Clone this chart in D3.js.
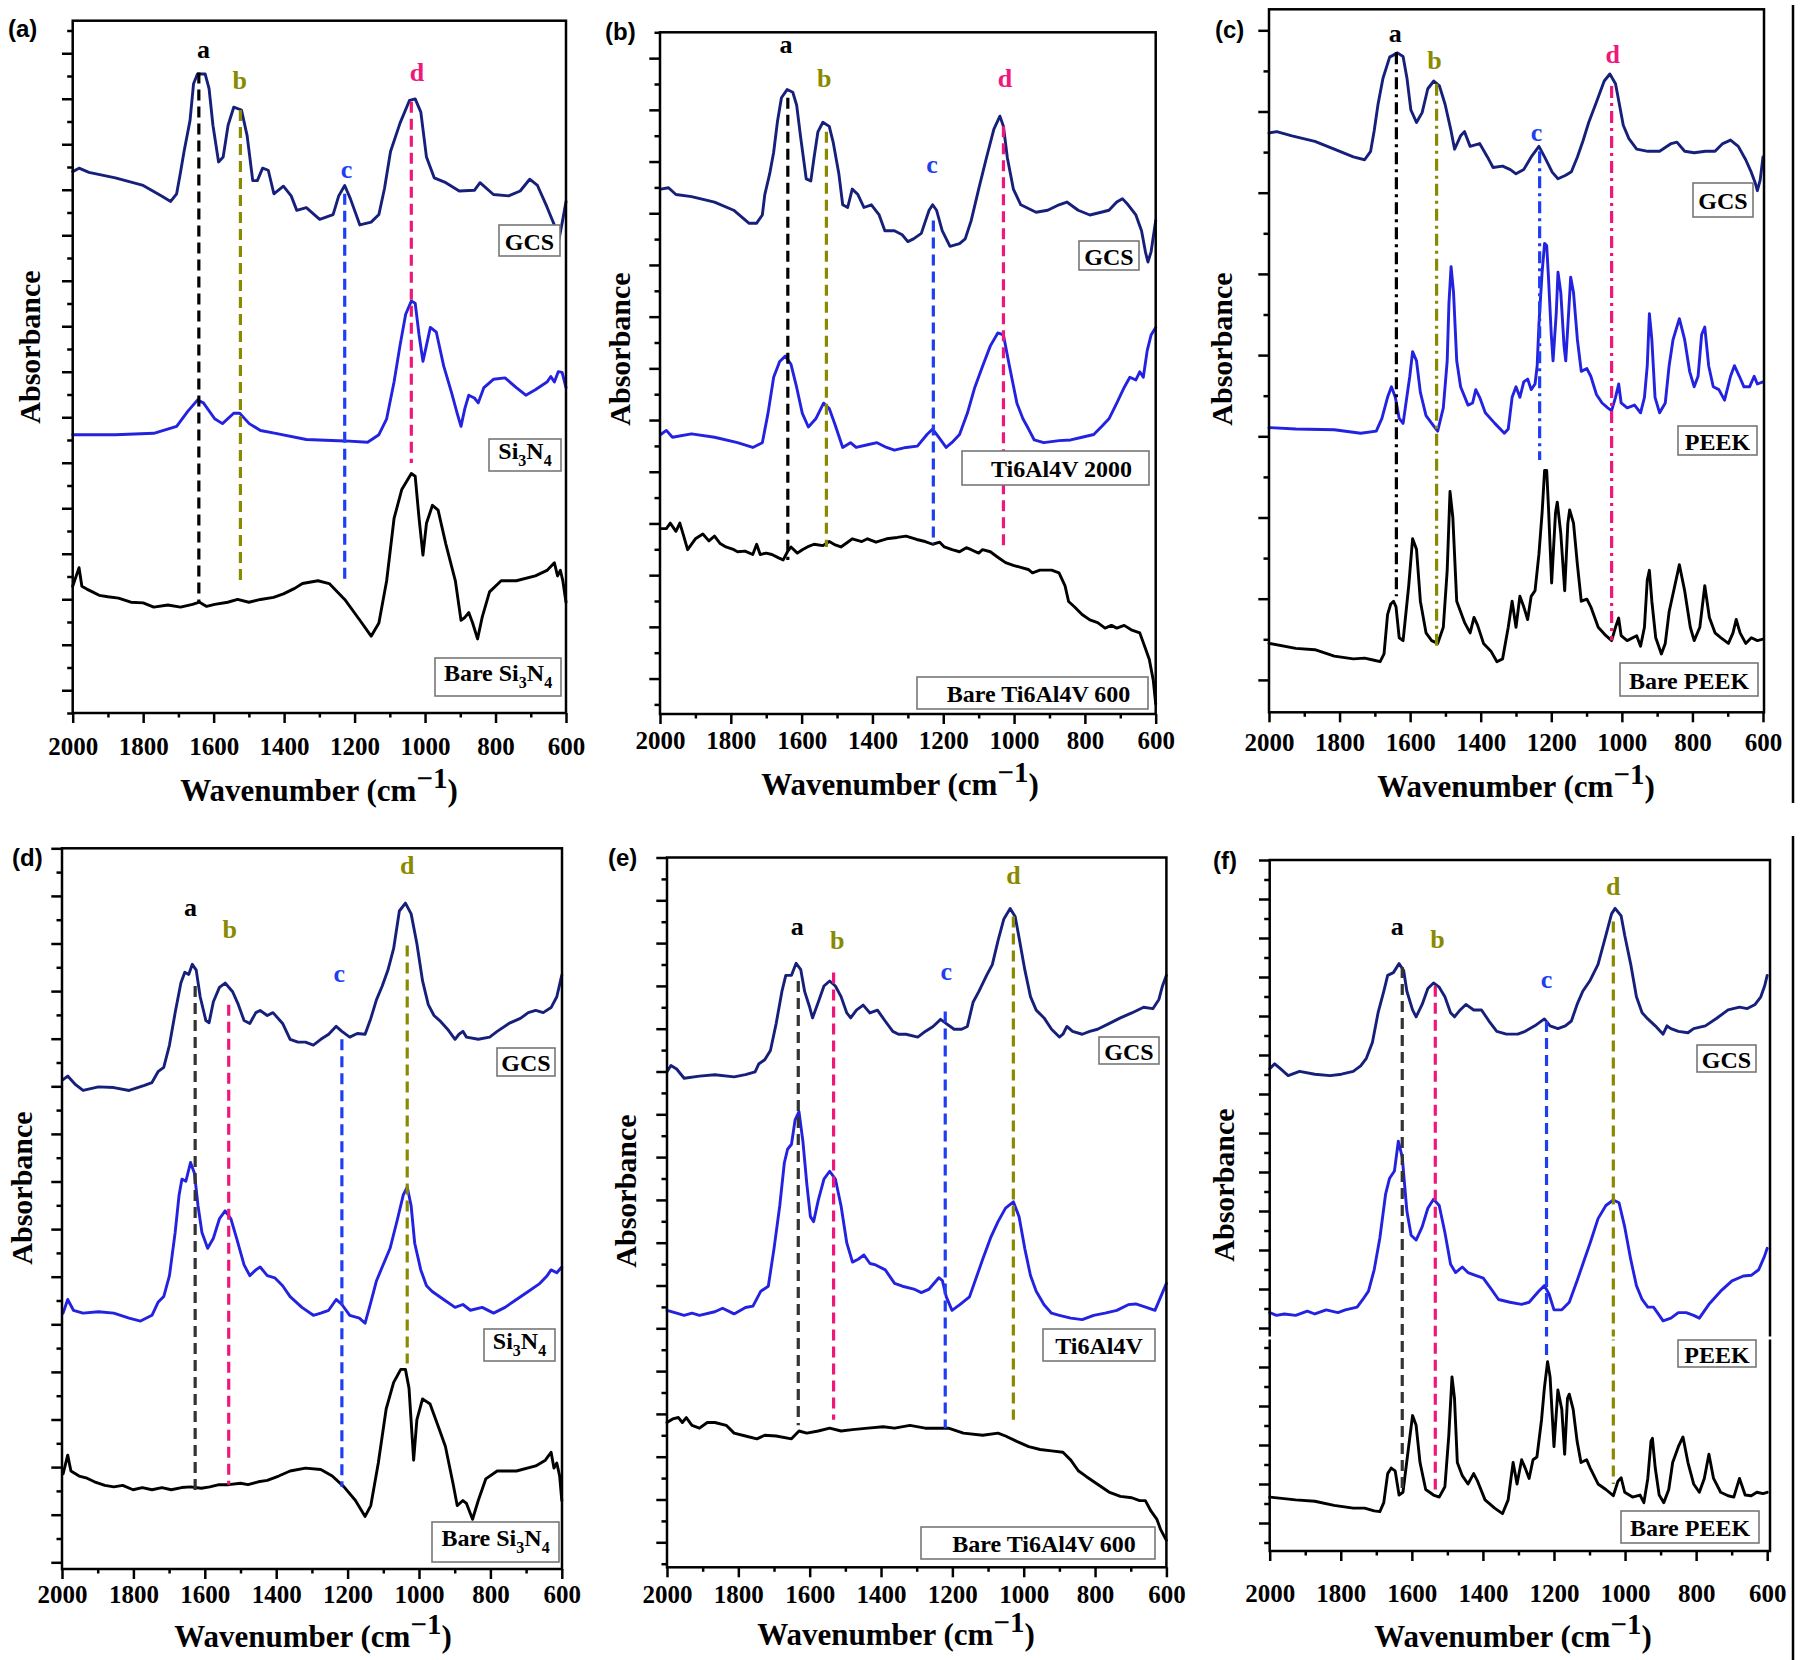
<!DOCTYPE html>
<html><head><meta charset="utf-8">
<script src="https://cdn.jsdelivr.net/npm/d3@7"></script>
<style>body{margin:0;background:#fff}svg{display:block}</style>
</head><body>
<svg id="fig" width="1800" height="1660"></svg>
<script>
// ---------------- DATA (wavenumber cm-1, absorbance in arbitrary units 0-100 of each panel) ----------------
const wavenumberTicks = [2000,1800,1600,1400,1200,1000,800,600];
const wavenumberMinorTicks = [1900,1700,1500,1300,1100,900,700];

// Panel (a)
const aGCS = [[2000,78.2],[1982,78.7],[1954,78.1],[1879,77.3],[1800,76.2],[1749,74.7],[1722,73.9],[1705,75.0],[1694,78.1],[1684,81.1],[1667,85.6],[1657,90.9],[1646,92.3],[1624,92.3],[1613,90.2],[1602,84.9],[1586,79.6],[1573,80.3],[1559,84.9],[1543,87.5],[1521,87.1],[1505,83.4],[1489,76.9],[1476,76.9],[1461,78.7],[1445,78.4],[1429,75.0],[1402,76.1],[1380,74.7],[1364,72.6],[1337,73.0],[1299,71.3],[1261,72.0],[1245,74.7],[1228,76.2],[1212,74.3],[1185,70.5],[1153,70.9],[1131,72.0],[1115,75.8],[1098,81.1],[1071,85.2],[1044,88.5],[1028,88.7],[1012,86.8],[996,80.3],[974,77.3],[941,76.6],[903,75.4],[860,75.5],[844,76.6],[806,74.9],[763,74.7],[730,75.4],[703,77.1],[681,76.2],[654,73.1],[633,70.5],[620,68.4],[609,71.3],[600,73.9]];
const aSi3N4 = [[2000,40.2],[1879,40.2],[1770,40.4],[1705,41.4],[1673,43.6],[1646,45.2],[1629,44.8],[1597,42.5],[1575,41.8],[1543,43.3],[1526,43.3],[1499,41.8],[1467,40.8],[1424,40.4],[1337,39.5],[1228,39.3],[1163,39.1],[1131,40.2],[1109,42.5],[1088,47.8],[1071,53.1],[1055,57.6],[1039,59.5],[1028,59.2],[1017,54.6],[1006,50.8],[996,53.1],[985,55.7],[968,55.0],[947,50.1],[925,46.3],[909,43.3],[898,41.4],[887,44.0],[876,45.9],[860,45.5],[849,44.8],[833,47.0],[806,48.2],[773,48.4],[741,47.0],[714,45.9],[687,46.7],[654,47.8],[643,48.6],[633,47.8],[622,49.3],[611,49.2],[600,47.0]];
const aBareSi3N4 = [[2000,18.3],[1982,21.0],[1974,18.3],[1960,17.9],[1944,17.5],[1925,17.0],[1900,16.8],[1870,16.6],[1835,16.0],[1800,15.9],[1770,15.3],[1730,15.6],[1694,15.3],[1660,15.7],[1640,16.0],[1620,15.4],[1597,15.7],[1560,16.0],[1532,16.4],[1500,16.0],[1467,16.4],[1430,16.7],[1402,17.2],[1370,18.0],[1348,18.7],[1304,19.1],[1272,18.7],[1228,16.4],[1185,13.4],[1153,11.1],[1131,13.0],[1109,19.1],[1088,28.1],[1066,32.3],[1039,34.6],[1028,34.2],[1017,28.1],[1006,22.8],[996,27.4],[979,30.0],[963,29.3],[941,24.4],[914,19.1],[898,13.4],[887,13.8],[876,14.5],[865,13.0],[851,10.7],[838,13.8],[817,17.5],[784,19.1],[741,19.1],[687,19.8],[654,20.6],[633,21.7],[624,19.8],[616,20.6],[609,19.1],[600,16.0]];
const aPeaks = [
  {tag:'a', wn:1642, from:16.0, to:92.5, lx:1629, ly:95.8},
  {tag:'b', wn:1524, from:18.7, to:87.1, lx:1526, ly:91.3},
  {tag:'c', wn:1228, from:19.4, to:75.0, lx:1223, ly:78.4},
  {tag:'d', wn:1039, from:36.1, to:88.3, lx:1023, ly:92.4}
];

// Panel (b)
const bGCS = [[1998,77.0],[1976,77.2],[1955,76.2],[1911,75.9],[1846,75.1],[1792,73.9],[1749,72.0],[1727,72.0],[1711,73.2],[1704,76.2],[1690,79.3],[1679,82.4],[1668,87.0],[1657,90.4],[1641,91.6],[1625,91.2],[1614,89.3],[1603,84.7],[1587,78.5],[1574,78.2],[1565,81.6],[1554,85.4],[1540,86.8],[1522,86.2],[1511,83.9],[1495,79.3],[1484,74.7],[1470,74.3],[1457,77.0],[1441,76.2],[1424,74.3],[1403,74.7],[1381,73.2],[1365,70.9],[1338,70.9],[1316,70.3],[1300,69.3],[1284,69.7],[1262,70.5],[1240,73.9],[1230,74.7],[1219,73.9],[1203,70.9],[1181,68.6],[1154,69.0],[1138,69.7],[1121,72.4],[1100,77.0],[1078,81.6],[1057,85.8],[1040,87.7],[1030,86.2],[1019,81.6],[1002,77.0],[981,74.7],[938,73.6],[905,73.9],[873,74.7],[851,75.1],[819,73.9],[786,73.2],[754,73.6],[732,73.9],[710,75.1],[694,75.6],[678,74.7],[656,73.2],[640,70.9],[629,67.8],[622,66.3],[613,67.8],[600,72.4]];
const bTi6Al4V2000 = [[1998,41.0],[1982,41.6],[1965,40.6],[1911,41.1],[1846,40.6],[1781,39.8],[1738,39.1],[1711,39.8],[1695,44.1],[1679,49.4],[1662,51.7],[1646,52.5],[1630,51.3],[1614,47.9],[1598,44.1],[1581,42.1],[1560,43.3],[1538,45.6],[1522,44.8],[1506,42.5],[1484,39.1],[1462,39.8],[1446,39.1],[1414,39.5],[1387,39.8],[1360,39.1],[1338,38.7],[1305,39.1],[1273,39.3],[1246,41.0],[1230,41.8],[1213,40.6],[1192,39.1],[1176,39.8],[1154,41.0],[1132,44.1],[1111,47.9],[1089,51.0],[1067,54.0],[1046,55.9],[1030,55.6],[1013,51.0],[992,45.6],[975,43.3],[959,41.8],[943,40.2],[916,39.8],[873,40.1],[840,40.2],[808,40.6],[775,41.0],[754,42.1],[732,43.3],[710,45.6],[689,47.9],[673,49.4],[656,49.0],[645,50.2],[635,49.4],[624,53.3],[613,55.6],[600,56.7]];
const bBareTi6Al4V600 = [[1998,27.2],[1982,27.2],[1971,28.0],[1955,26.8],[1944,28.0],[1933,26.1],[1922,24.1],[1900,25.7],[1879,26.4],[1862,25.4],[1846,26.1],[1830,25.0],[1814,24.5],[1795,24.2],[1781,23.8],[1760,23.9],[1738,23.4],[1727,24.9],[1717,23.4],[1700,23.6],[1684,23.4],[1665,22.9],[1652,22.6],[1640,23.8],[1630,24.5],[1612,23.6],[1598,24.1],[1580,24.6],[1565,24.9],[1540,24.7],[1522,25.3],[1505,24.8],[1489,24.5],[1470,25.2],[1457,25.7],[1430,25.3],[1414,25.7],[1390,25.2],[1360,25.7],[1330,25.9],[1305,26.1],[1275,25.6],[1251,25.3],[1230,24.9],[1210,25.2],[1197,24.5],[1175,24.1],[1154,23.8],[1135,24.4],[1121,24.1],[1100,23.6],[1089,24.1],[1067,23.8],[1046,23.0],[1024,22.2],[1002,21.8],[981,21.5],[960,21.2],[948,20.7],[927,21.1],[894,21.1],[873,20.7],[856,18.8],[846,16.5],[829,15.7],[808,14.6],[786,13.8],[764,13.4],[743,12.6],[725,13.0],[710,12.6],[689,13.0],[667,12.3],[645,11.9],[629,9.6],[618,8.0],[607,5.0],[600,1.5]];
const bPeaks = [
  {tag:'a', wn:1639, from:22.6, to:90.4, lx:1644, ly:98.1},
  {tag:'b', wn:1530, from:24.5, to:85.4, lx:1536, ly:93.1},
  {tag:'c', wn:1228, from:24.9, to:72.4, lx:1232, ly:80.5},
  {tag:'d', wn:1030, from:24.5, to:86.2, lx:1026, ly:93.1}
];

// Panel (c)
const cGCS = [[2000,82.4],[1978,82.6],[1935,82.0],[1870,81.2],[1815,80.1],[1761,79.0],[1729,78.6],[1712,79.8],[1702,82.7],[1691,86.5],[1677,90.2],[1658,93.2],[1636,93.8],[1620,93.3],[1609,90.2],[1598,85.7],[1582,83.9],[1566,85.3],[1550,88.7],[1533,89.8],[1517,89.1],[1501,86.5],[1484,82.7],[1474,80.1],[1457,82.0],[1446,82.6],[1430,80.5],[1403,80.9],[1381,79.0],[1365,77.5],[1338,77.7],[1316,77.2],[1300,76.6],[1278,77.2],[1257,79.0],[1235,80.5],[1219,79.0],[1197,76.8],[1181,75.9],[1159,76.4],[1143,76.9],[1126,79.0],[1110,81.3],[1094,83.9],[1072,86.8],[1050,89.8],[1034,90.8],[1018,89.4],[1007,86.5],[996,83.5],[980,81.6],[958,80.1],[926,79.8],[893,79.8],[860,80.9],[844,81.1],[822,79.8],[795,79.6],[763,79.8],[736,79.8],[714,80.9],[692,81.4],[670,80.5],[649,78.6],[633,76.8],[622,75.3],[616,74.2],[608,75.7],[600,79.0]];
const cPEEK = [[2000,40.5],[1924,40.3],[1815,40.2],[1740,39.7],[1696,40.0],[1680,41.8],[1664,44.8],[1653,46.3],[1642,44.8],[1631,41.8],[1620,41.1],[1601,47.8],[1593,51.3],[1582,50.0],[1571,45.5],[1555,42.2],[1533,40.7],[1522,40.0],[1506,43.3],[1495,50.0],[1490,58.2],[1484,63.4],[1477,59.7],[1468,50.0],[1457,46.3],[1436,43.7],[1423,44.0],[1414,45.9],[1403,44.8],[1387,42.6],[1360,41.1],[1333,39.7],[1322,40.3],[1311,44.8],[1300,46.3],[1289,44.8],[1278,47.0],[1267,47.4],[1257,45.9],[1246,46.7],[1240,49.3],[1235,55.2],[1226,62.6],[1219,66.7],[1213,66.4],[1208,61.9],[1200,53.7],[1195,50.0],[1186,56.7],[1181,62.6],[1173,59.7],[1164,52.2],[1159,50.0],[1151,56.7],[1145,61.9],[1137,59.7],[1126,53.0],[1115,48.5],[1099,48.9],[1088,47.8],[1072,45.2],[1056,44.0],[1040,43.3],[1029,42.9],[1018,44.8],[1009,46.7],[1002,44.0],[985,43.3],[964,43.7],[947,42.6],[936,44.8],[928,49.3],[922,56.7],[915,53.0],[906,44.8],[893,42.6],[877,44.0],[866,49.3],[855,53.0],[837,56.0],[822,53.0],[808,48.5],[795,46.3],[784,47.8],[774,53.7],[765,54.8],[754,49.3],[741,46.3],[725,45.9],[709,44.4],[692,47.8],[681,49.3],[667,47.8],[654,46.3],[638,46.3],[625,47.8],[616,46.7],[600,47.0]];
const cBarePEEK = [[2000,9.8],[1924,9.1],[1870,8.9],[1815,8.0],[1761,7.6],[1729,7.7],[1702,7.4],[1685,7.2],[1674,8.3],[1664,13.9],[1655,15.4],[1647,15.8],[1640,15.0],[1631,10.6],[1620,10.2],[1604,18.0],[1593,24.7],[1582,23.2],[1571,15.8],[1555,11.3],[1539,10.2],[1522,9.8],[1506,12.1],[1495,20.2],[1487,31.4],[1479,27.7],[1468,15.8],[1457,14.3],[1446,12.8],[1430,11.3],[1419,13.5],[1409,12.4],[1392,9.8],[1371,8.7],[1354,7.2],[1338,7.6],[1322,12.1],[1311,15.8],[1300,12.1],[1289,16.5],[1278,15.0],[1267,13.2],[1257,16.5],[1246,17.3],[1235,22.5],[1226,28.4],[1219,34.4],[1213,34.4],[1208,29.2],[1199,18.4],[1188,28.4],[1183,29.9],[1173,25.4],[1162,17.3],[1153,26.9],[1148,28.8],[1137,26.9],[1126,21.0],[1115,15.8],[1099,16.1],[1088,15.0],[1067,12.1],[1045,10.9],[1029,10.2],[1018,12.1],[1009,13.4],[1002,10.9],[985,10.2],[958,10.9],[947,9.4],[936,12.1],[928,18.8],[922,20.2],[915,15.8],[904,10.6],[888,8.3],[877,9.8],[866,14.3],[850,18.0],[837,21.0],[822,17.3],[806,12.1],[795,10.2],[779,12.1],[765,18.0],[752,13.5],[736,11.3],[719,10.6],[698,9.8],[685,11.3],[676,13.2],[665,11.3],[649,9.8],[633,10.6],[616,10.2],[600,10.4]];
const cPeaks = [
  {tag:'a', wn:1639, from:16.5, to:93.9, lx:1642, ly:96.5},
  {tag:'b', wn:1525, from:9.1, to:89.4, lx:1531, ly:92.6},
  {tag:'c', wn:1233, from:35.9, to:79.8, lx:1242, ly:82.4},
  {tag:'d', wn:1029, from:10.2, to:89.1, lx:1026, ly:93.5}
];

// Panel (d)
const dGCS = [[1997,67.9],[1984,68.4],[1962,67.2],[1941,66.4],[1898,66.9],[1855,66.8],[1812,66.4],[1769,67.1],[1748,67.5],[1731,69.0],[1715,69.6],[1699,72.7],[1683,77.2],[1667,81.3],[1656,82.8],[1645,82.5],[1635,83.9],[1624,83.1],[1613,79.4],[1597,76.1],[1588,75.8],[1576,78.7],[1559,80.7],[1543,81.3],[1522,80.1],[1506,78.3],[1490,76.1],[1474,75.7],[1457,77.2],[1445,77.5],[1425,76.8],[1409,77.2],[1382,75.7],[1361,73.5],[1339,73.1],[1318,73.1],[1296,72.7],[1275,73.5],[1253,74.2],[1232,75.3],[1216,74.6],[1194,73.8],[1173,74.3],[1151,74.2],[1135,76.4],[1119,79.0],[1103,80.9],[1087,83.1],[1071,86.1],[1055,91.3],[1038,92.4],[1022,90.9],[1006,86.8],[990,81.6],[974,78.3],[958,76.8],[942,76.1],[920,74.9],[899,73.5],[888,74.2],[877,74.6],[867,73.8],[834,73.5],[802,73.8],[781,74.6],[748,75.7],[716,76.4],[694,77.2],[673,77.5],[652,77.2],[630,77.9],[614,79.4],[600,82.4]];
const dSi3N4 = [[1997,35.5],[1984,37.4],[1968,35.9],[1941,35.5],[1898,35.7],[1855,35.5],[1812,34.8],[1780,34.4],[1748,35.2],[1731,37.0],[1715,37.8],[1699,40.7],[1683,46.7],[1672,51.9],[1664,54.1],[1653,53.8],[1640,56.4],[1629,54.9],[1619,50.4],[1608,46.7],[1592,44.5],[1576,45.9],[1559,48.6],[1543,49.7],[1527,48.6],[1511,45.9],[1490,42.2],[1474,40.7],[1457,41.5],[1445,41.9],[1425,40.7],[1404,40.4],[1382,39.3],[1361,37.8],[1328,36.3],[1296,35.2],[1275,35.5],[1253,35.9],[1232,37.4],[1216,36.7],[1194,35.2],[1167,34.8],[1151,34.1],[1135,37.0],[1119,40.0],[1103,41.9],[1081,44.5],[1060,48.6],[1044,51.9],[1033,53.0],[1022,50.4],[1012,45.2],[995,41.5],[979,39.3],[963,38.5],[931,37.4],[899,36.3],[877,36.7],[856,35.9],[823,36.3],[791,35.5],[759,36.3],[727,37.4],[694,38.5],[662,39.6],[641,40.7],[630,41.5],[614,41.1],[600,41.9]];
const dBareSi3N4 = [[1997,13.2],[1984,15.8],[1975,13.6],[1952,12.9],[1930,12.6],[1909,12.1],[1880,11.6],[1855,11.4],[1830,11.6],[1801,11.0],[1775,11.3],[1748,11.0],[1720,11.3],[1694,11.0],[1665,11.3],[1640,11.4],[1610,11.2],[1586,11.4],[1560,11.7],[1533,11.7],[1500,11.9],[1479,11.7],[1450,12.1],[1425,12.3],[1393,12.9],[1361,13.6],[1318,14.0],[1275,13.8],[1243,12.9],[1210,11.4],[1178,9.5],[1151,7.3],[1135,8.8],[1114,14.7],[1092,22.2],[1071,25.9],[1051,27.7],[1038,27.7],[1028,25.1],[1015,15.1],[1006,20.7],[990,23.6],[969,22.9],[947,19.9],[926,17.0],[904,11.7],[893,8.8],[877,9.5],[867,9.1],[850,6.9],[834,9.5],[813,12.5],[781,13.6],[727,13.6],[673,14.3],[646,15.1],[630,16.2],[622,14.0],[614,14.7],[606,12.9],[600,9.5]];
const dPeaks = [
  {tag:'a', wn:1627, from:10.6, to:80.9, lx:1640, ly:91.7},
  {tag:'b', wn:1533, from:11.7, to:78.3, lx:1530, ly:88.7},
  {tag:'c', wn:1216, from:11.4, to:73.5, lx:1223, ly:82.5},
  {tag:'d', wn:1033, from:28.5, to:86.5, lx:1033, ly:97.6}
];

// Panel (e)
const eGCS = [[2000,69.8],[1989,70.7],[1973,70.2],[1952,68.9],[1909,69.2],[1866,69.4],[1812,69.1],[1780,69.4],[1753,69.8],[1743,70.9],[1726,71.5],[1710,72.8],[1694,76.6],[1678,81.1],[1667,83.4],[1651,83.4],[1638,85.1],[1625,84.2],[1614,81.1],[1600,78.9],[1592,77.4],[1576,79.6],[1560,81.9],[1544,82.6],[1528,81.9],[1512,80.4],[1496,78.1],[1485,77.4],[1469,78.5],[1450,79.2],[1431,78.1],[1410,78.5],[1389,77.0],[1367,75.5],[1351,75.1],[1330,75.1],[1297,74.7],[1276,75.5],[1254,76.2],[1233,77.2],[1217,76.6],[1195,75.8],[1174,75.8],[1158,76.2],[1142,79.6],[1126,81.1],[1104,83.4],[1088,84.9],[1072,88.3],[1056,91.3],[1038,92.8],[1024,91.7],[1013,88.7],[997,84.2],[981,80.4],[965,78.5],[943,77.4],[922,75.8],[900,74.7],[890,75.1],[879,76.2],[863,75.5],[836,75.1],[815,75.5],[793,75.8],[761,76.6],[729,77.4],[697,78.1],[664,78.9],[638,78.7],[621,80.0],[611,81.9],[600,83.4]];
const eTi6Al4V = [[2000,36.2],[1973,35.8],[1952,35.5],[1930,35.8],[1909,35.5],[1866,36.0],[1844,36.5],[1812,35.7],[1780,36.6],[1759,36.8],[1737,38.9],[1716,39.6],[1700,44.9],[1684,50.9],[1671,57.0],[1662,58.9],[1651,59.6],[1641,63.0],[1630,64.2],[1619,60.0],[1608,54.0],[1598,49.4],[1589,48.7],[1576,51.7],[1560,54.7],[1544,55.8],[1528,54.7],[1512,50.9],[1496,45.7],[1480,43.0],[1464,43.4],[1448,44.0],[1431,42.8],[1415,42.6],[1388,41.9],[1362,40.0],[1340,39.6],[1308,39.2],[1287,38.7],[1265,39.2],[1238,40.8],[1228,40.4],[1217,38.1],[1201,36.2],[1179,37.0],[1152,38.1],[1131,41.1],[1115,43.4],[1093,46.4],[1072,48.7],[1051,50.6],[1029,51.5],[1013,49.4],[997,44.9],[981,41.1],[965,38.9],[943,37.0],[922,35.8],[900,35.5],[868,35.1],[836,34.9],[804,35.5],[772,35.8],[739,36.2],[707,37.0],[686,37.1],[654,36.6],[632,36.2],[616,38.1],[600,40.0]];
const eBareTi6Al4V600 = [[2000,20.4],[1984,20.9],[1968,21.1],[1957,20.4],[1946,21.1],[1930,20.0],[1909,19.6],[1887,20.4],[1866,20.4],[1834,20.0],[1812,18.9],[1780,18.5],[1748,18.1],[1726,18.6],[1694,18.5],[1651,18.1],[1630,19.2],[1608,18.9],[1576,19.2],[1544,19.6],[1512,19.2],[1480,19.4],[1437,19.6],[1394,19.8],[1362,19.6],[1319,20.0],[1276,19.6],[1244,19.6],[1211,19.6],[1169,18.9],[1115,18.6],[1072,18.9],[1051,18.5],[1018,17.7],[986,17.0],[954,16.6],[922,16.4],[890,16.2],[868,15.1],[847,13.6],[825,12.8],[793,11.7],[761,10.6],[729,10.0],[697,9.8],[675,9.4],[659,9.4],[643,7.9],[627,6.8],[616,5.3],[600,3.8]];
const ePeaks = [
  {tag:'a', wn:1632, from:20.0, to:82.6, lx:1635, ly:90.2},
  {tag:'b', wn:1533, from:20.8, to:83.8, lx:1523, ly:88.3},
  {tag:'c', wn:1220, from:19.6, to:78.3, lx:1217, ly:83.8},
  {tag:'d', wn:1029, from:20.8, to:91.7, lx:1029, ly:97.4}
];

// Panel (f)
const fGCS = [[2000,69.8],[1986,70.5],[1970,69.8],[1948,68.8],[1916,69.4],[1873,69.0],[1830,68.8],[1798,69.0],[1765,69.4],[1744,70.2],[1728,71.3],[1711,73.6],[1695,77.9],[1679,81.0],[1668,83.3],[1652,83.7],[1636,85.0],[1623,84.0],[1614,81.0],[1598,78.3],[1588,77.3],[1571,79.1],[1555,81.4],[1539,82.2],[1523,81.6],[1507,80.2],[1491,77.9],[1480,77.3],[1464,78.3],[1448,79.1],[1426,78.3],[1404,78.3],[1383,76.7],[1361,75.2],[1334,74.8],[1302,74.8],[1281,75.2],[1254,76.0],[1227,77.0],[1211,76.0],[1189,75.6],[1168,76.0],[1151,76.7],[1135,79.1],[1119,81.0],[1098,82.6],[1076,84.9],[1054,89.1],[1038,92.2],[1028,93.0],[1011,91.9],[1001,89.1],[984,84.9],[968,80.2],[952,77.9],[936,77.0],[915,76.0],[893,74.8],[882,76.0],[871,75.6],[850,75.2],[823,75.0],[807,75.6],[774,76.0],[742,77.1],[710,78.3],[678,78.7],[656,78.5],[634,79.1],[618,80.2],[607,81.8],[600,83.3]];
const fPEEK = [[2000,34.5],[1981,34.1],[1959,34.3],[1927,34.1],[1894,34.7],[1873,34.3],[1841,34.9],[1808,34.5],[1787,34.9],[1754,35.3],[1738,36.4],[1722,37.6],[1706,40.7],[1690,45.3],[1674,51.6],[1663,53.9],[1649,55.0],[1638,59.3],[1627,57.0],[1614,49.2],[1602,45.7],[1588,45.0],[1571,46.9],[1555,49.6],[1539,50.9],[1523,50.0],[1507,46.1],[1491,41.5],[1477,40.3],[1458,41.1],[1442,40.3],[1421,39.9],[1399,39.5],[1378,38.0],[1356,36.4],[1324,36.0],[1291,35.7],[1270,36.0],[1243,37.6],[1227,38.4],[1214,37.2],[1200,34.9],[1178,34.9],[1157,36.0],[1135,39.1],[1119,41.5],[1098,44.6],[1076,48.1],[1054,50.0],[1033,50.8],[1017,50.4],[1001,46.9],[984,42.2],[968,38.4],[952,36.4],[936,35.3],[920,35.3],[909,34.5],[893,33.3],[871,33.7],[850,34.5],[828,34.5],[807,34.1],[791,33.7],[764,35.7],[731,37.6],[699,39.1],[667,39.8],[645,39.9],[624,40.7],[608,42.6],[600,43.8]];
const fBarePEEK = [[2000,7.8],[1927,7.4],[1873,7.2],[1819,6.6],[1765,6.2],[1733,6.2],[1706,5.8],[1690,5.7],[1679,7.0],[1668,11.2],[1658,12.0],[1647,11.6],[1636,8.1],[1625,8.5],[1609,15.1],[1598,19.6],[1588,18.2],[1577,12.8],[1561,8.9],[1539,8.1],[1523,7.8],[1507,9.3],[1496,16.7],[1487,25.2],[1480,22.1],[1472,12.8],[1458,10.9],[1442,9.7],[1426,11.2],[1415,10.1],[1394,7.4],[1367,6.2],[1345,5.4],[1329,7.4],[1315,12.8],[1304,9.7],[1291,13.2],[1281,12.0],[1270,10.5],[1259,13.2],[1248,13.6],[1235,19.0],[1227,23.6],[1218,27.4],[1211,25.2],[1200,15.1],[1189,23.3],[1178,20.5],[1170,14.0],[1162,22.1],[1157,22.7],[1146,20.5],[1135,15.9],[1124,12.8],[1108,13.2],[1098,12.0],[1076,9.7],[1054,8.9],[1033,8.0],[1020,10.1],[1011,10.6],[1001,8.5],[979,7.8],[958,8.1],[947,7.0],[936,10.5],[927,15.9],[923,16.3],[915,12.0],[904,8.1],[891,7.0],[877,8.9],[866,12.8],[850,15.1],[837,16.5],[823,12.8],[807,9.7],[791,8.5],[777,10.5],[764,14.0],[751,10.5],[731,8.5],[710,8.0],[694,7.8],[678,10.5],[662,8.1],[645,8.0],[629,8.5],[612,8.3],[600,8.5]];
const fPeaks = [
  {tag:'a', wn:1627, from:8.9, to:84.5, lx:1641, ly:90.3},
  {tag:'b', wn:1534, from:8.9, to:81.8, lx:1528, ly:88.4},
  {tag:'c', wn:1221, from:27.5, to:76.7, lx:1221, ly:82.6},
  {tag:'d', wn:1033, from:9.7, to:91.1, lx:1033, ly:96.1}
];

// ---------------- STYLES / LAYOUT ----------------
const C = {gcs:'#16207a', blue:'#2222e0', black:'#000000', olive:'#8a8a00', pink:'#f0177a', lblue:'#1f3ef2', dgray:'#333333'};
const SERIF = '"Liberation Serif","Times New Roman",serif';
const SANS = '"Liberation Sans",Arial,sans-serif';

const topLine = {a:C.black, b:C.olive, c:C.lblue, d:C.pink};
const topLbl  = {a:C.black, b:C.olive, c:C.lblue, d:C.pink};
const botLine = {a:C.dgray, b:C.pink, c:C.lblue, d:C.olive};
const botLbl  = {a:C.black, b:C.olive, c:C.lblue, d:C.olive};

const panels = [
 {tag:'(a)', left:72.7, right:566, top:20.7, bottom:713, x600:566, tagXY:[8,37], absXY:[29,347], titleXY:[319,801], tickLblY:755,
  yt:{anchor:'bottom', off:0, step:22.75, majorOdd:true}, dash:'11,6', lineC:topLine, lblC:topLbl, peaks:aPeaks,
  series:[{d:aGCS,c:C.gcs},{d:aSi3N4,c:C.blue},{d:aBareSi3N4,c:C.black}],
  boxes:[{t:['GCS'],b:[499,225,560,256]},{t:['Si','3','N','4'],b:[489,439,561,471]},{t:['Bare Si','3','N','4'],b:[435,658,561,696]}]},
 {tag:'(b)', left:660, right:1155.7, top:32.3, bottom:714, x600:1155.7, tagXY:[605,40], absXY:[619,349], titleXY:[900,795], tickLblY:749,
  yt:{anchor:'top', off:0, step:25.85, majorOdd:true}, dash:'11,6', lineC:topLine, lblC:topLbl, peaks:bPeaks,
  series:[{d:bGCS,c:C.gcs},{d:bTi6Al4V2000,c:C.blue},{d:bBareTi6Al4V600,c:C.black}],
  boxes:[{t:['GCS'],b:[1079,241,1139,270]},{t:['Ti6Al4V 2000'],b:[962,451,1149,485],dx:6},{t:['Bare Ti6Al4V 600'],b:[917,677,1148,709],dx:6}]},
 {tag:'(c)', left:1269, right:1764, top:9.3, bottom:712.3, x600:1763, tagXY:[1215,38], absXY:[1221,349], titleXY:[1516,797], tickLblY:751,
  yt:{anchor:'top', off:21, step:40.6, majorOdd:false}, dash:'12,5,3,5', lineC:topLine, lblC:topLbl, peaks:cPeaks,
  series:[{d:cGCS,c:C.gcs},{d:cPEEK,c:C.blue},{d:cBarePEEK,c:C.black}],
  boxes:[{t:['GCS'],b:[1693,183,1753,217]},{t:['PEEK'],b:[1678,426,1757,455]},{t:['Bare PEEK'],b:[1620,663,1758,696]}]},
 {tag:'(d)', left:62, right:562, top:848.3, bottom:1569, x600:561.8, tagXY:[12,866], absXY:[21,1188], titleXY:[313,1647], tickLblY:1603,
  yt:{anchor:'top', off:0, step:23.8, majorOdd:false}, dash:'11,6', lineC:botLine, lblC:botLbl, peaks:dPeaks,
  series:[{d:dGCS,c:C.gcs},{d:dSi3N4,c:C.blue},{d:dBareSi3N4,c:C.black}],
  boxes:[{t:['GCS'],b:[497,1048,555,1076]},{t:['Si','3','N','4'],b:[484,1329,555,1361]},{t:['Bare Si','3','N','4'],b:[432,1522,559,1562]}]},
 {tag:'(e)', left:667, right:1166.4, top:857.5, bottom:1567.3, x600:1166.4, tagXY:[608,866], absXY:[625,1191], titleXY:[896,1645], tickLblY:1603,
  yt:{anchor:'top', off:0, step:21.4, majorOdd:false}, dash:'11,6', lineC:botLine, lblC:botLbl, peaks:ePeaks,
  series:[{d:eGCS,c:C.gcs},{d:eTi6Al4V,c:C.blue},{d:eBareTi6Al4V600,c:C.black}],
  boxes:[{t:['GCS'],b:[1099,1037,1159,1064]},{t:['Ti6Al4V'],b:[1043,1329,1155,1361]},{t:['Bare Ti6Al4V 600'],b:[921,1527,1155,1559],dx:6}]},
 {tag:'(f)', left:1269.7, right:1770, top:860, bottom:1551, x600:1767.2, tagXY:[1213,869], absXY:[1223,1185], titleXY:[1513,1647], tickLblY:1602,
  yt:{anchor:'top', off:0, step:19.5, majorOdd:false}, dash:'11,6', lineC:botLine, lblC:botLbl, peaks:fPeaks, gapY:1338,
  series:[{d:fGCS,c:C.gcs},{d:fPEEK,c:C.blue},{d:fBarePEEK,c:C.black}],
  boxes:[{t:['GCS'],b:[1697,1045,1756,1072]},{t:['PEEK'],b:[1678,1340,1756,1367]},{t:['Bare PEEK'],b:[1621,1511,1759,1543]}]}
];

// ---------------- DRAW ----------------
const svg = d3.select('#fig');
svg.append('rect').attr('width',1800).attr('height',1660).attr('fill','#fff');

// figure separators
svg.append('line').attr('x1',1793).attr('x2',1793).attr('y1',5).attr('y2',803).attr('stroke','#000').attr('stroke-width',2.5);
svg.append('line').attr('x1',1793).attr('x2',1793).attr('y1',836).attr('y2',1660).attr('stroke','#000').attr('stroke-width',2.5);

panels.forEach(p => {
  const g = svg.append('g');
  const x = d3.scaleLinear().domain([2000,600]).range([p.left, p.x600]);
  const y = d3.scaleLinear().domain([0,100]).range([p.bottom, p.top]);

  // spectra
  const line = d3.line().x(d=>x(d[0])).y(d=>y(d[1]));
  p.series.forEach(s => {
    g.append('path').datum(s.d).attr('d', line).attr('fill','none')
     .attr('stroke', s.c).attr('stroke-width',2.9).attr('stroke-linejoin','round').attr('stroke-linecap','round');
  });

  // peak marker lines
  p.peaks.forEach(pk => {
    g.append('line').attr('x1',x(pk.wn)).attr('x2',x(pk.wn)).attr('y1',y(pk.to)).attr('y2',y(pk.from))
     .attr('stroke',p.lineC[pk.tag]).attr('stroke-width',3.2).attr('stroke-dasharray',p.dash);
    g.append('text').attr('x',x(pk.lx)).attr('y',y(pk.ly)+8).attr('text-anchor','middle')
     .attr('font-family',SERIF).attr('font-weight','bold').attr('font-size',26).attr('fill',p.lblC[pk.tag]).text(pk.tag);
  });

  // frame
  g.append('rect').attr('x',p.left).attr('y',p.top).attr('width',p.right-p.left).attr('height',p.bottom-p.top)
   .attr('fill','none').attr('stroke','#000').attr('stroke-width',2.5);

  // x axis ticks
  const xMaj = d3.axisBottom(x).tickValues(wavenumberTicks).tickSize(10).tickPadding(6).tickFormat(d3.format('d'));
  const xa = g.append('g').attr('transform',`translate(0,${p.bottom})`).call(xMaj);
  xa.select('.domain').remove();
  xa.selectAll('line').attr('stroke','#000').attr('stroke-width',2.5);
  xa.selectAll('text').attr('font-family',SERIF).attr('font-weight','bold').attr('font-size',25).attr('fill','#000')
    .attr('dy',null).attr('y',p.tickLblY - p.bottom);
  const xMin = d3.axisBottom(x).tickValues(wavenumberMinorTicks).tickSize(4.5).tickFormat('');
  const xb = g.append('g').attr('transform',`translate(0,${p.bottom})`).call(xMin);
  xb.select('.domain').remove();
  xb.selectAll('line').attr('stroke','#000').attr('stroke-width',2.5);

  // y ticks (unlabelled)
  const major = [], minor = [];
  for (let k=0;;k++){
    const py = p.yt.anchor==='top' ? p.top + p.yt.off + k*p.yt.step : p.bottom - p.yt.off - k*p.yt.step;
    if (py < p.top-0.5 || py > p.bottom+0.5) break;
    ((k%2===1)===p.yt.majorOdd ? major : minor).push(y.invert(py));
  }
  const yMaj = d3.axisLeft(y).tickValues(major).tickSize(10.7).tickFormat('');
  const ya = g.append('g').attr('transform',`translate(${p.left},0)`).call(yMaj);
  ya.select('.domain').remove(); ya.selectAll('line').attr('stroke','#000').attr('stroke-width',2.5);
  const yMin = d3.axisLeft(y).tickValues(minor).tickSize(5.5).tickFormat('');
  const yb = g.append('g').attr('transform',`translate(${p.left},0)`).call(yMin);
  yb.select('.domain').remove(); yb.selectAll('line').attr('stroke','#000').attr('stroke-width',2.5);

  // white stitch gap
  if (p.gapY) g.append('rect').attr('x',p.left-14).attr('y',p.gapY-1.5).attr('width',p.right-p.left+20).attr('height',3).attr('fill','#fff');

  // sample label boxes
  p.boxes.forEach(bx => {
    const [x1,y1,x2,y2] = bx.b;
    g.append('rect').attr('x',x1).attr('y',y1).attr('width',x2-x1).attr('height',y2-y1)
     .attr('fill','#fff').attr('stroke','#777').attr('stroke-width',1.6);
    const sub = bx.t.length>1;
    const t = g.append('text').attr('x',(x1+x2)/2+(bx.dx||0)).attr('y',(y1+y2)/2 + (sub?4:9))
      .attr('text-anchor','middle').attr('font-family',SERIF).attr('font-weight','bold').attr('font-size',24).attr('fill','#000');
    if (!sub) t.text(bx.t[0]);
    else {
      t.append('tspan').text(bx.t[0]);
      t.append('tspan').attr('font-size',16).attr('dy',7).text(bx.t[1]);
      t.append('tspan').attr('dy',-7).text(bx.t[2]);
      t.append('tspan').attr('font-size',16).attr('dy',7).text(bx.t[3]);
    }
  });

  // panel tag
  g.append('text').attr('x',p.tagXY[0]).attr('y',p.tagXY[1]).attr('font-family',SANS).attr('font-weight','bold')
   .attr('font-size',24).attr('fill','#000').text(p.tag);

  // y title
  g.append('text').attr('transform',`translate(${p.absXY[0]},${p.absXY[1]}) rotate(-90)`).attr('text-anchor','middle')
   .attr('dominant-baseline','central').attr('font-family',SERIF).attr('font-weight','bold').attr('font-size',30).text('Absorbance');

  // x title
  const xt = g.append('text').attr('x',p.titleXY[0]).attr('y',p.titleXY[1]).attr('text-anchor','middle')
   .attr('font-family',SERIF).attr('font-weight','bold').attr('font-size',31).attr('fill','#000');
  xt.append('tspan').text('Wavenumber (cm');
  xt.append('tspan').attr('dy',-13).attr('font-size',29).text('\u22121');
  xt.append('tspan').attr('dy',13).text(')');
});
</script>
</body></html>
